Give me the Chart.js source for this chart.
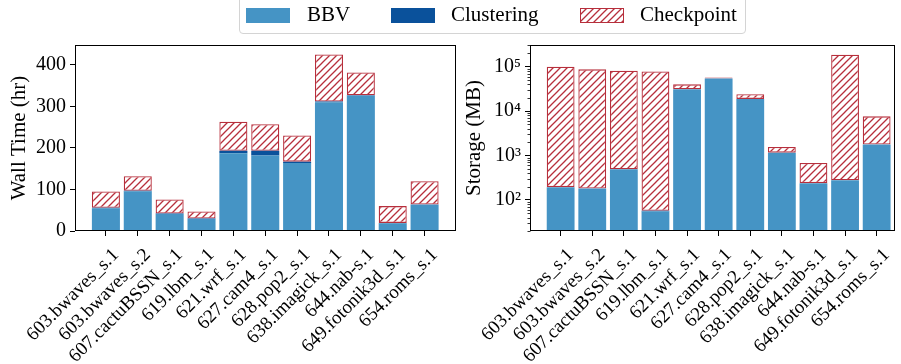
<!DOCTYPE html>
<html>
<head>
<meta charset="utf-8">
<script src="https://cdn.jsdelivr.net/npm/chart.js@4.4.1/dist/chart.umd.min.js"></script>
<style>
  html, body { margin: 0; padding: 0; background: #fff; }
  body { width: 901px; height: 364px; position: relative; overflow: hidden; font-family: 'Liberation Serif', 'Times New Roman', serif; color: #000; }
  #timeBox { position: absolute; left: 0; top: 0; width: 460px; height: 364px; }
  #storageBox { position: absolute; left: 460px; top: 0; width: 441px; height: 364px; }
  .legend { position: absolute; left: 239px; top: -4px; width: 507px; height: 38px; box-sizing: border-box; border: 1px solid #d4d4d4; border-radius: 4px; background: rgba(255,255,255,0.8); }
  .sw { position: absolute; top: 8px; width: 44px; height: 15px; box-sizing: border-box; }
  .lab { position: absolute; top: 4px; font-size: 21px; line-height: 21px; white-space: nowrap; }
</style>
</head>
<body>
<div id="timeBox"><canvas id="timeChart" width="460" height="364"></canvas></div>
<div id="storageBox"><canvas id="storageChart" width="441" height="364"></canvas></div>
<div class="legend"></div>
<div class="sw" id="swBBV" style="left:246px;"></div><div class="lab" style="left:307px;">BBV</div>
<div class="sw" id="swClu" style="left:391px;"></div><div class="lab" style="left:451px;">Clustering</div>
<canvas class="sw" id="swChk" width="44" height="15" style="left:580px;"></canvas><div class="lab" style="left:640px;">Checkpoint</div>

<script>
// Benchmarks (SPEC CPU2017 speed runs)
const benchmarks = ['603.bwaves_s.1', '603.bwaves_s.2', '607.cactuBSSN_s.1', '619.lbm_s.1', '621.wrf_s.1',
  '627.cam4_s.1', '628.pop2_s.1', '638.imagick_s.1', '644.nab-s.1', '649.fotonik3d_s.1', '654.roms_s.1'];

// Wall time per stage (hours)
const timeBBV        = [55, 96, 41, 29, 187, 182, 164, 310, 326, 18.5, 63];
const timeClustering = [1, 1, 1, 1, 6, 11, 3, 2, 1, 1, 1];
const timeCheckpoint = [39, 35, 34, 17, 70, 64, 63, 113, 55, 40.5, 56];

// Storage per stage (MB)
const storageBBV        = [193, 180, 490, 56, 31000, 54000, 18800, 1160, 238, 277, 1760];
const storageClustering = [1, 1, 1, 1, 1, 1, 1, 1, 1, 1, 1];
const storageCheckpoint = [99800, 86800, 80500, 77900, 9000, 3000, 5200, 390, 442, 185700, 5840];

// Axis ticks
const timeTicks = [0, 100, 200, 300, 400];
const storageTicks = [100, 1000, 10000, 100000];

const FONT = "'Liberation Serif', 'Times New Roman', serif";
const COL_BBV = '#4594c5';
const COL_CLU = '#0a519b';
const COL_CHK = '#b72f3c';

function hatchPattern(color) {
  const s = 7;
  const c = document.createElement('canvas');
  c.width = s; c.height = s;
  const g = c.getContext('2d');
  g.fillStyle = '#fff';
  g.fillRect(0, 0, s, s);
  g.strokeStyle = color;
  g.lineWidth = 1.3;
  g.beginPath();
  g.moveTo(0, s); g.lineTo(s, 0);
  g.moveTo(-1, 1); g.lineTo(1, -1);
  g.moveTo(s - 1, s + 1); g.lineTo(s + 1, s - 1);
  g.stroke();
  return g.createPattern(c, 'repeat');
}
const CHK_FILL = hatchPattern(COL_CHK);

// legend swatches
document.getElementById('swBBV').style.background = COL_BBV;
document.getElementById('swClu').style.background = COL_CLU;
(function () {
  const cv = document.getElementById('swChk');
  const g = cv.getContext('2d');
  g.fillStyle = CHK_FILL;
  g.fillRect(0, 0, 44, 15);
  g.strokeStyle = COL_CHK;
  g.lineWidth = 1;
  g.strokeRect(0.5, 0.5, 43, 14);
})();

const toPoints = arr => arr.map((v, i) => ({ x: i, y: v }));

function makeDatasets(bbv, clu, chk) {
  return [
    { label: 'BBV', data: toPoints(bbv), backgroundColor: COL_BBV, borderWidth: 0 },
    { label: 'Clustering', data: toPoints(clu), backgroundColor: COL_CLU, borderWidth: 0 },
    { label: 'Checkpoint', data: toPoints(chk), backgroundColor: CHK_FILL, borderColor: COL_CHK,
      borderWidth: 1.3, borderSkipped: false }
  ];
}

// black box around the plotting area
const framePlugin = {
  id: 'frame',
  afterDatasetsDraw(chart) {
    const { ctx, chartArea: a } = chart;
    ctx.save();
    ctx.strokeStyle = '#000';
    ctx.lineWidth = 1;
    ctx.strokeRect(Math.round(a.left) + 0.5, Math.round(a.top) + 0.5,
      Math.round(a.right - a.left) - 1, Math.round(a.bottom - a.top) - 1);
    ctx.restore();
  }
};

// minor ticks on the logarithmic axis
const minorLogTicks = {
  id: 'minorLogTicks',
  afterDraw(chart) {
    const y = chart.scales.y;
    if (y.type !== 'logarithmic') return;
    const { ctx } = chart;
    const x0 = Math.round(chart.chartArea.left) + 0.5;
    ctx.save();
    ctx.strokeStyle = '#000';
    ctx.lineWidth = 0.8;
    ctx.beginPath();
    for (let e = 1; e <= 5; e++) {
      for (let k = 2; k <= 9; k++) {
        const v = k * Math.pow(10, e);
        if (v < y.min || v > y.max) continue;
        const py = Math.round(y.getPixelForValue(v)) + 0.5;
        ctx.moveTo(x0 - 3, py); ctx.lineTo(x0, py);
      }
    }
    ctx.stroke();
    ctx.restore();
  }
};

function xAxis(max) {
  return {
    type: 'linear', stacked: true, min: -0.97, max: max, offset: false,
    afterBuildTicks: s => { s.ticks = benchmarks.map((_, i) => ({ value: i })); },
    afterFit: s => { s.height = 133; },
    ticks: {
      autoSkip: false, minRotation: 45, maxRotation: 45, padding: 8, labelOffset: 10,
      color: '#000', font: { family: FONT, size: 19 },
      callback: v => benchmarks[v]
    },
    grid: { display: true, offset: false, drawOnChartArea: false, drawTicks: true, tickLength: 5, color: '#000', lineWidth: 1 },
    border: { display: false }
  };
}

const SUP = { 2: '\u00B2', 3: '\u00B3', 4: '\u2074', 5: '\u2075' };

new Chart(document.getElementById('timeChart'), {
  type: 'bar',
  data: { datasets: makeDatasets(timeBBV, timeClustering, timeCheckpoint) },
  options: {
    responsive: false, animation: false, devicePixelRatio: 1,
    layout: { padding: { top: 45, right: 4.5, bottom: 0, left: 0 } },
    datasets: { bar: { barPercentage: 0.88, categoryPercentage: 1 } },
    plugins: { legend: { display: false }, tooltip: { enabled: false } },
    scales: {
      x: xAxis(10.97),
      y: {
        type: 'linear', stacked: true, min: 0, max: 448,
        afterBuildTicks: s => { s.ticks = timeTicks.map(v => ({ value: v })); },
        afterFit: s => { s.width = 75; },
        ticks: { color: '#000', font: { family: FONT, size: 20 }, padding: 4 },
        grid: { display: true, drawOnChartArea: false, drawTicks: true, tickLength: 5, color: '#000' },
        border: { display: false },
        title: { display: true, text: 'Wall Time (hr)', color: '#000', font: { family: FONT, size: 21 }, padding: { top: 7, bottom: 0 } }
      }
    }
  },
  plugins: [framePlugin]
});

new Chart(document.getElementById('storageChart'), {
  type: 'bar',
  data: { datasets: makeDatasets(storageBBV, storageClustering, storageCheckpoint) },
  options: {
    responsive: false, animation: false, devicePixelRatio: 1,
    layout: { padding: { top: 45, right: 4.3, bottom: 0, left: 0 } },
    datasets: { bar: { barPercentage: 0.88, categoryPercentage: 1 } },
    plugins: { legend: { display: false }, tooltip: { enabled: false } },
    scales: {
      x: xAxis(10.57),
      y: {
        type: 'logarithmic', stacked: true, min: 20, max: 307000,
        afterBuildTicks: s => { s.ticks = storageTicks.map(v => ({ value: v, major: true })); },
        afterFit: s => { s.width = 70; },
        ticks: {
          color: '#000', font: { family: FONT, size: 20 }, padding: 4,
          callback: v => '10' + SUP[Math.round(Math.log10(v))]
        },
        grid: { display: true, drawOnChartArea: false, drawTicks: true, tickLength: 5, color: '#000' },
        border: { display: false },
        title: { display: true, text: 'Storage (MB)', color: '#000', font: { family: FONT, size: 21 }, padding: { top: 2, bottom: 0 } }
      }
    }
  },
  plugins: [framePlugin, minorLogTicks]
});
</script>
</body>
</html>
